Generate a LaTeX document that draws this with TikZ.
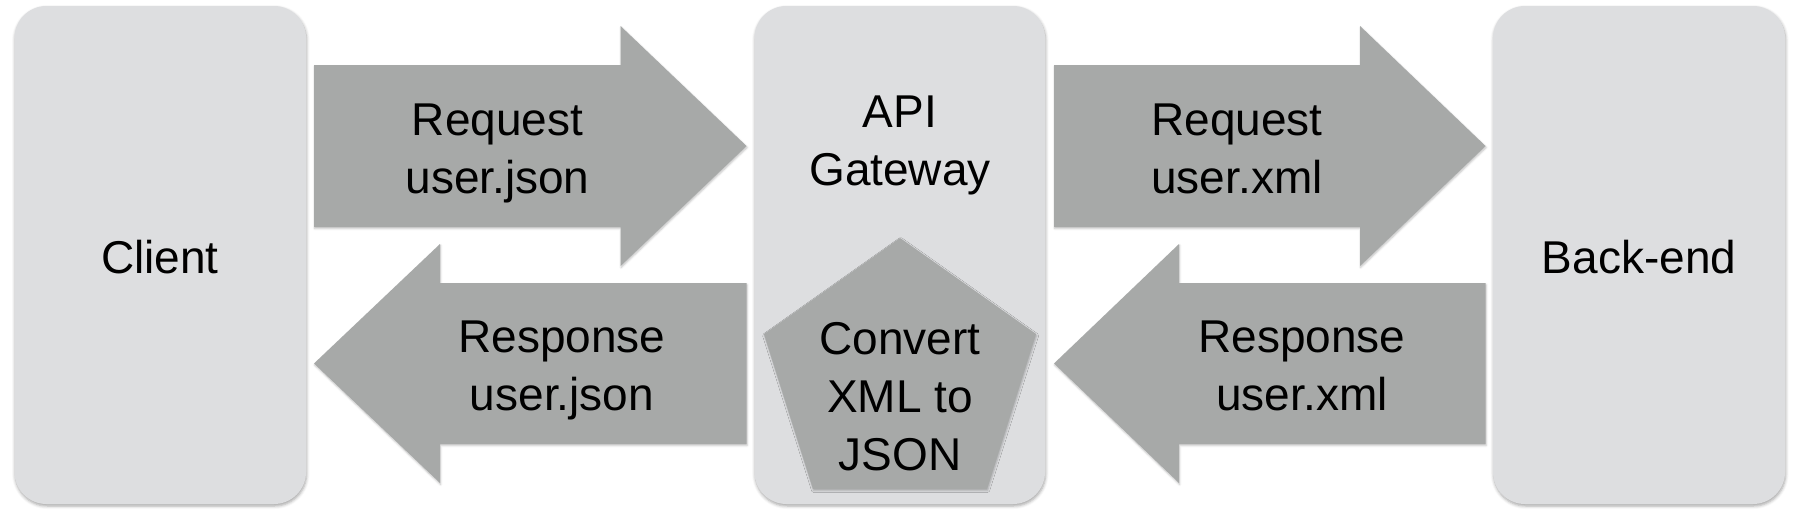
\documentclass[tikz,border=0pt]{standalone}
\usepackage{fontspec}
\setmainfont{Liberation Sans}
\usetikzlibrary{shadows.blur}
\definecolor{boxgray}{RGB}{221,222,224}
\definecolor{arrowgray}{RGB}{167,169,168}
\begin{document}
\begin{tikzpicture}[x=1pt,y=-1pt,
  tier/.style={fill=boxgray, rounded corners=32pt,
    blur shadow={shadow xshift=0.6pt, shadow yshift=-2pt, shadow blur radius=3pt, shadow opacity=35}},
  blockarrow/.style={fill=arrowgray,
    blur shadow={shadow xshift=0.6pt, shadow yshift=-1.5pt, shadow blur radius=2pt, shadow opacity=25}},
  lbl/.style={font=\fontsize{46}{58}\selectfont, align=center, inner sep=0pt, anchor=north, text=black}]
\useasboundingbox (0,0) rectangle (1798,520);
% tiers
\path[tier] (14.5,6) rectangle (306,504);
\path[tier] (754.5,6) rectangle (1045,504);
\path[tier] (1493,6) rectangle (1785,504);
% block arrows
\path[blockarrow] (314,65) -- (620.5,65) -- (620.5,26) -- (746.5,146) -- (620.5,266) -- (620.5,227) -- (314,227) -- cycle;
\path[blockarrow] (746.5,283) -- (440,283) -- (440,244) -- (314,363.5) -- (440,483) -- (440,444) -- (746.5,444) -- cycle;
\path[blockarrow] (1054,65) -- (1360,65) -- (1360,26) -- (1485.5,146) -- (1360,266) -- (1360,227) -- (1054,227) -- cycle;
\path[blockarrow] (1485.5,283) -- (1179,283) -- (1179,244) -- (1054,363.5) -- (1179,483) -- (1179,444) -- (1485.5,444) -- cycle;
% pentagon
\path[blockarrow] (900,238) -- (1036,334) -- (987,489) -- (813,489) -- (764,334) -- cycle;
% labels
\node[lbl] (client) at (160,240) {Client};
\node[lbl] (backend) at (1639,240) {Back-end};
\node[lbl] (gateway) at (900,96) {API\\Gateway};
\node[lbl] (convert) at (900,322) {Convert\\XML to\\JSON};
\node[lbl] (reqjson) at (497.5,104) {Request\\user.json};
\node[lbl] (resjson) at (562,321) {Response\\user.json};
\node[lbl] (reqxml) at (1237,104) {Request\\user.xml};
\node[lbl] (resxml) at (1302,321) {Response\\user.xml};
\end{tikzpicture}
\end{document}
